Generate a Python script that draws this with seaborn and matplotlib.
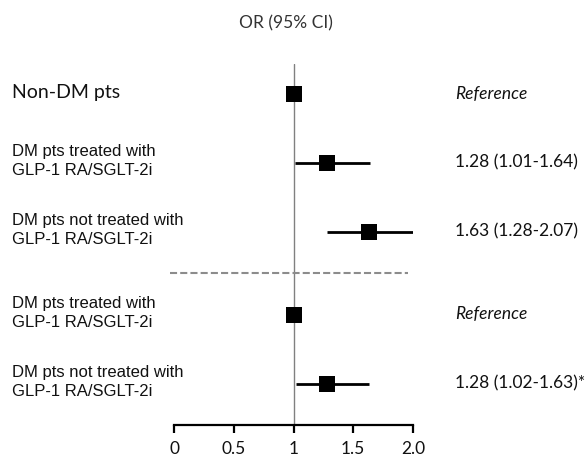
import numpy as np
import pandas as pd
import matplotlib
matplotlib.use("Agg")
import matplotlib.pyplot as plt
import matplotlib.transforms as mtransforms
import seaborn as sns

# data
groups = ["Non-DM pts",
          "DM pts treated with\nGLP-1 RA/SGLT-2i",
          "DM pts not treated with\nGLP-1 RA/SGLT-2i",
          "DM pts treated with\nGLP-1 RA/SGLT-2i",
          "DM pts not treated with\nGLP-1 RA/SGLT-2i"]
odds_ratio = [1.0, 1.28, 1.63, 1.0, 1.28]
ci_low = [np.nan, 1.01, 1.28, np.nan, 1.02]
ci_high = [np.nan, 1.64, 2.07, np.nan, 1.63]
or_labels = ["Reference", "1.28 (1.01-1.64)", "1.63 (1.28-2.07)",
             "Reference", "1.28 (1.02-1.63)*"]
tick_values = [0, 0.5, 1, 1.5, 2.0]
tick_labels = ["0", "0.5", "1", "1.5", "2.0"]

# row layout (second block sits a bit lower, below the dashed separator)
row_pos = [0, 1, 2, 3.2, 4.2]

df = pd.DataFrame({"Group": groups, "OR": odds_ratio, "lo": ci_low,
                   "hi": ci_high, "pos": row_pos, "label": or_labels})

sns.set_style("white")
plt.rcParams["font.family"] = ["Liberation Sans", "DejaVu Sans"]

fig = plt.figure(figsize=(5.88, 4.56), dpi=100)
ax = fig.add_axes([174 / 588, 30 / 456, 239 / 588, 361 / 456])

ax.axvline(1, color="#808080", lw=1, zorder=1)
ci = df.dropna(subset=["lo"])
ax.hlines(ci["pos"], ci["lo"], ci["hi"], color="black", lw=2, zorder=2)
sns.scatterplot(data=df, x="OR", y="pos", marker="s", s=118, color="black",
                linewidth=0, ax=ax, zorder=3, legend=False)

# separator between the two comparisons
ax.plot([-0.03, 1.96], [2.6, 2.6], color="#8c8c8c", lw=1.5,
        linestyle=(0, (3.4, 1.5)), clip_on=False)

ax.set_xlim(0, 2)
ax.set_ylim(4.797, -0.435)
for s in ["top", "right", "left"]:
    ax.spines[s].set_visible(False)
ax.spines["bottom"].set_linewidth(1.6)
ax.spines["bottom"].set_color("black")
ax.set_xticks(tick_values, tick_labels, family="Lato")
ax.tick_params(axis="x", bottom=True, length=6, width=1.6, direction="out",
               pad=5, labelsize=12.5, color="black", labelcolor="#111111")
ax.set_yticks([])
ax.set_xlabel("")
ax.set_ylabel("")

trans = mtransforms.blended_transform_factory(fig.transFigure, ax.transData)
for i, row in df.iterrows():
    if i == 0:
        fig.text(12 / 588, row["pos"] - 0.04, row["Group"], transform=trans,
                 ha="left", va="center", fontsize=14, family="Lato",
                 color="#111111")
    else:
        fig.text(12 / 588, row["pos"] - 0.04, row["Group"], transform=trans,
                 ha="left", va="center", fontsize=12, linespacing=1.3,
                 color="#111111")
    fig.text(455 / 588, row["pos"] - 0.02, row["label"], transform=trans,
             ha="left", va="center", fontsize=12.5, family="Lato",
             style="italic" if row["label"] == "Reference" else "normal",
             color="#111111")

fig.text(286 / 588, 1 - 23 / 456, "OR (95% CI)", ha="center", va="center",
         fontsize=12.5, family="Lato", color="#333333")

fig.savefig("out.png", dpi=100)
